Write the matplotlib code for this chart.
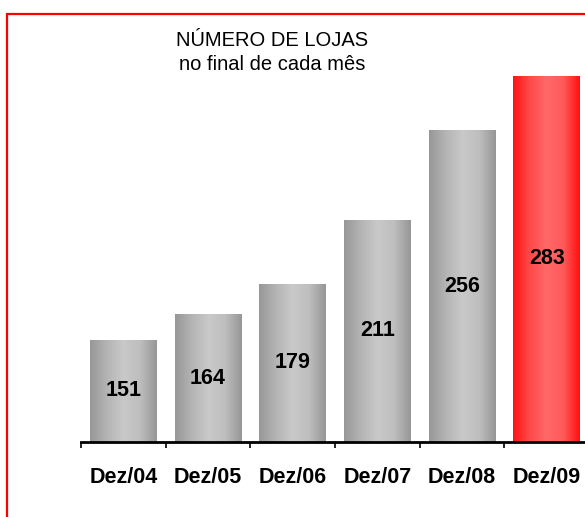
import numpy as np
import matplotlib.pyplot as plt
from matplotlib.patches import Rectangle
from matplotlib.colors import LinearSegmentedColormap

plt.rcParams['font.family'] = ['Liberation Sans', 'DejaVu Sans']

# data
categories = ['Dez/04', 'Dez/05', 'Dez/06', 'Dez/07', 'Dez/08', 'Dez/09']
lojas = [151, 164, 179, 211, 256, 283]
highlight = [False, False, False, False, False, True]

W, H = 585, 517
fig = plt.figure(figsize=(W/100, H/100), dpi=100)
ax = fig.add_axes([81/W, (H-442)/H, 508/W, 400/H])

ymin, ymax = 100, 300
x = np.arange(len(categories))
bars = ax.bar(x, [v - ymin for v in lojas], bottom=ymin, width=0.79,
              color='none', edgecolor='none')

# cylinder-like horizontal gradients
gray = LinearSegmentedColormap.from_list('g', ['#979797', '#b4b4b4', '#c9c9c9', '#bebebe', '#969696'])
red = LinearSegmentedColormap.from_list('r', ['#ff1414', '#ff4a4a', '#ff6868', '#ff5a5a', '#ff1010'])
grad = np.linspace(0, 1, 256).reshape(1, -1)
for b, hl in zip(bars, highlight):
    x0, y0 = b.get_x(), b.get_y()
    im = ax.imshow(grad, cmap=red if hl else gray, aspect='auto',
                   extent=[x0, x0 + b.get_width(), y0, y0 + b.get_height()],
                   interpolation='bicubic', zorder=2)
    im.set_clip_path(b)

# value labels in the middle of each bar
for xi, v in zip(x, lojas):
    ax.text(xi, (v + ymin) / 2, str(v), ha='center', va='center',
            fontsize=15.5, fontweight='bold', zorder=3)

ax.set_xlim(-0.5, len(categories) - 0.5)
ax.set_ylim(ymin, ymax)
for s in ['top', 'right', 'left']:
    ax.spines[s].set_visible(False)
ax.spines['bottom'].set_linewidth(2)
ax.set_yticks([])
ax.set_xticks(np.arange(len(categories) + 1) - 0.5)
ax.set_xticklabels([])
ax.tick_params(axis='x', which='major', direction='out', length=4, width=1.2)
ax.set_xticks(x, minor=True)
ax.set_xticklabels(categories, minor=True, fontsize=15.5, fontweight='bold')
ax.tick_params(axis='x', which='minor', length=0, pad=18)

fig.text(272/W, 1 - 41/H, 'NÚMERO DE LOJAS', ha='center', va='center', fontsize=14.5)
fig.text(272/W, 1 - 65/H, 'no final de cada mês', ha='center', va='center', fontsize=14.5)

# red frame
fig.patches.append(Rectangle((7/W, -0.05), 1.2, (H - 14)/H + 0.05,
                             transform=fig.transFigure, fill=False,
                             edgecolor='#ff0000', linewidth=1.6))

fig.savefig('out.png', dpi=100)
